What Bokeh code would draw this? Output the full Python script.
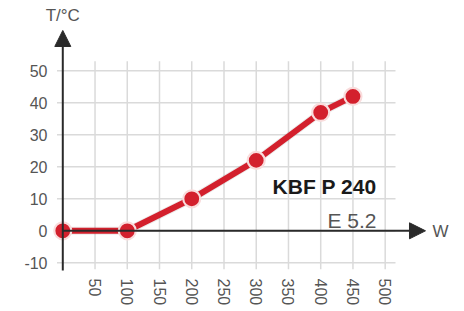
import math
from bokeh.plotting import figure
from bokeh.models import Range1d, Arrow, NormalHead, ColumnDataSource
from bokeh.core.properties import value
from bokeh.embed import file_html
from bokeh.resources import INLINE

# data
power_w = [0, 100, 200, 300, 400, 450]
temp_c = [0, 0, 10, 22, 37, 42]
x_ticks = [50, 100, 150, 200, 250, 300, 350, 400, 450, 500]
x_tick_labels = ["50", "100", "150", "200", "250", "300", "350", "400", "450", "500"]
y_ticks = [-10, 0, 10, 20, 30, 40, 50]
y_tick_labels = ["-10", "0", "10", "20", "30", "40", "50"]
model_name = "KBF P 240"
model_code = "E 5.2"

FONT = value("Liberation Sans")
RED = "#d3202d"
GRID = "#dadada"
AX = "#2a2a2a"
LABEL = "#555555"

p = figure(width=464, height=311, output_backend="svg", toolbar_location=None,
           x_range=Range1d(-96.6, 623.0), y_range=Range1d(-25.22, 71.97),
           min_border=0, outline_line_color=None)
p.axis.visible = False
p.grid.visible = False
p.background_fill_color = "white"
p.border_fill_color = "white"

# grid
p.segment(x0=[-9] * len(y_ticks), x1=[516] * len(y_ticks), y0=y_ticks, y1=y_ticks,
          line_color=GRID, line_width=1.5)
p.segment(x0=x_ticks, x1=x_ticks, y0=[-12] * len(x_ticks), y1=[53] * len(x_ticks),
          line_color=GRID, line_width=1.5)

# axes with arrows
p.add_layout(Arrow(end=NormalHead(size=16, fill_color=AX, line_color=AX, line_width=1),
                   x_start=0, y_start=-12.4, x_end=0, y_end=62.6,
                   line_color=AX, line_width=2))
p.add_layout(Arrow(end=NormalHead(size=16, fill_color=AX, line_color=AX, line_width=1),
                   x_start=0, y_start=0, x_end=562.5, y_end=0,
                   line_color=AX, line_width=2))

# tick labels
p.text(x=[-23.7] * len(y_ticks), y=y_ticks, text=y_tick_labels,
       text_align="right", text_baseline="middle", text_font=FONT,
       text_font_size="16px", text_color=LABEL)
p.text(x=x_ticks, y=[-14.9] * len(x_ticks), text=x_tick_labels, angle=-math.pi / 2,
       text_align="left", text_baseline="middle", text_font=FONT,
       text_font_size="16px", text_color=LABEL)

# axis titles
p.text(x=[0], y=[67.4], text=["T/°C"], text_align="center", text_baseline="alphabetic",
       text_font=FONT, text_font_size="17px", text_color=LABEL)
p.text(x=[573.4], y=[-0.2], text=["W"], text_align="left", text_baseline="alphabetic",
       text_font=FONT, text_font_size="17px", text_color=LABEL)

# series
src = ColumnDataSource(dict(x=power_w, y=temp_c))
p.line("x", "y", source=src, line_color="#000000", line_alpha=0.08, line_width=8)
p.line("x", "y", source=src, line_color=RED, line_width=6)
p.scatter("x", "y", source=src, size=17, fill_color=RED, line_color="#f9dcdc",
          line_width=2.2)

# annotations
p.text(x=[486.5], y=[13.9], text=[model_name], text_align="right",
       text_baseline="alphabetic", text_font=FONT, text_font_size="21px",
       text_font_style="bold", text_color="#1a1a1a")
p.text(x=[486.5], y=[3.3], text=[model_code], text_align="right",
       text_baseline="alphabetic", text_font=FONT, text_font_size="21px",
       text_color=LABEL)

open("out.html", "w").write(file_html(p, INLINE))
